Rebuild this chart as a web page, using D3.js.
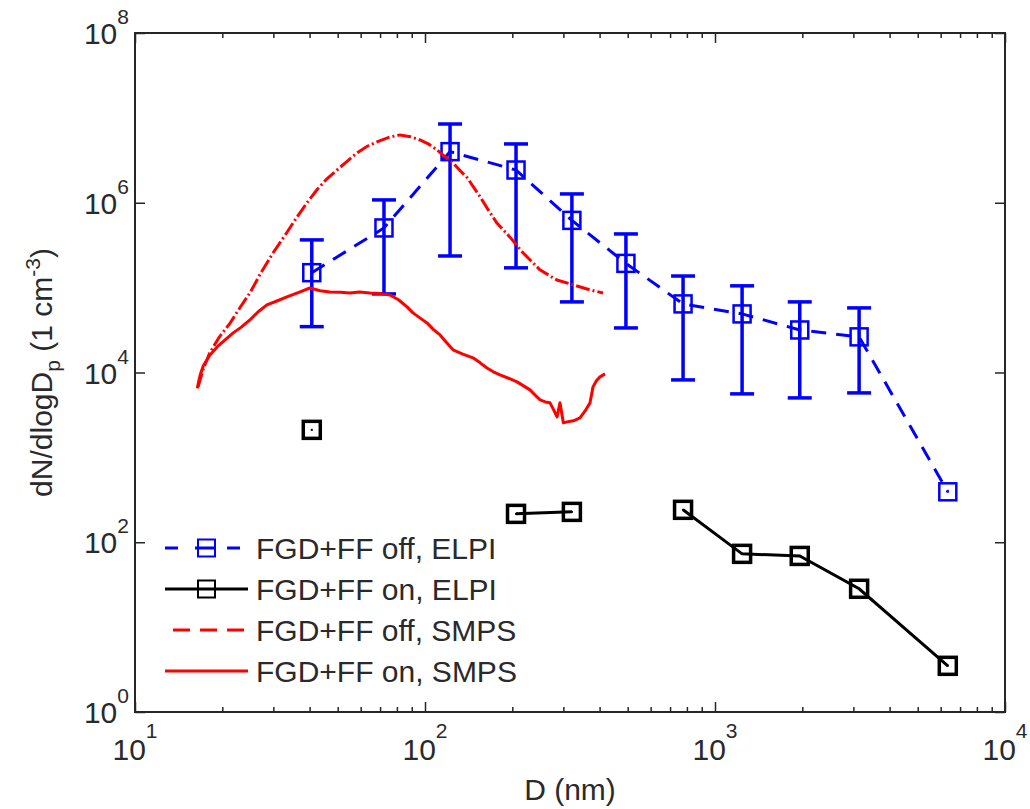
<!DOCTYPE html>
<html>
<head>
<meta charset="utf-8">
<script src="https://cdn.jsdelivr.net/npm/d3@7"></script>
<style>
  body { margin: 0; background: #fff; }
  svg text { font-family: "Liberation Sans", Arial, sans-serif; fill: #2a2a2a; }
</style>
</head>
<body>
<script>
// ELPI stages (nm)
const elpiD = [40.7, 72.2, 122, 206, 321, 493, 776, 1240, 1960, 3140, 6350];
// FGD+FF off, ELPI with error bars
const elpiOff = [1.50e5, 5.05e5, 4.0e6, 2.43e6, 6.2e5, 1.93e5, 6.43e4, 4.9e4, 3.17e4, 2.63e4, 393];
const elpiOffLow = [3.47e4, 8.43e4, 2.36e5, 1.71e5, 6.79e4, 3.35e4, 8.18e3, 5.6e3, 5.02e3, 5.75e3, null];
const elpiOffHigh = [3.65e5, 1.08e6, 8.47e6, 4.93e6, 1.27e6, 4.29e5, 1.37e5, 1.05e5, 6.79e4, 5.77e4, null];
// FGD+FF on, ELPI (gaps = missing stages)
const elpiOn = [2110, null, null, 216, 228, null, 241, 73, 69, 28.3, 3.5];

// FGD+FF off, SMPS
const smpsOffD = [16.5, 17.2, 18.1, 19.5, 21.3, 23.0, 24.9, 27.2, 29.9, 33.0, 36.2, 39.2, 42.4, 45.8, 49.7, 54.0, 58.3, 63.0, 68.3, 75.0, 82.0, 89.0, 96.1, 103, 110, 117, 125, 132, 140, 155, 165, 177, 196, 218, 249, 285, 324, 371, 411];
const smpsOff = [6.8e3, 1.1e4, 1.70e4, 2.6e4, 3.84e4, 5.8e4, 8.66e4, 1.5e5, 2.56e5, 4.2e5, 6.80e5, 1.0e6, 1.42e6, 1.9e6, 2.43e6, 3.1e6, 3.86e6, 4.6e6, 5.20e6, 5.9e6, 6.3e6, 6.0e6, 5.49e6, 4.9e6, 4.19e6, 3.5e6, 2.94e6, 2.4e6, 1.96e6, 1.17e6, 8.3e5, 5.78e5, 3.96e5, 2.56e5, 1.62e5, 1.23e5, 1.08e5, 9.4e4, 8.66e4];

// FGD+FF on, SMPS
const smpsOnD = [16.4, 16.6, 16.8, 17.2, 18.1, 19.2, 20.4, 21.8, 23.2, 24.9, 26.6, 28.5, 31.0, 33.4, 37.1, 40.1, 43.5, 47.0, 51.0, 55.1, 59.5, 64.6, 70.0, 75.7, 81.0, 86.7, 90.9, 96.0, 101.6, 107, 112.7, 118, 124.9, 135, 146.4, 155, 163.6, 172, 181.4, 195, 207.6, 218, 230.2, 240, 249.3, 260, 269.8, 278, 285.3, 292, 300, 308.8, 325, 342.3, 356, 370.7, 379.6, 390, 401.2, 417.6];
const smpsOn = [6.5e3, 8.0e3, 9.5e3, 1.2e4, 1.6e4, 2.0e4, 2.4e4, 2.93e4, 3.4e4, 4.16e4, 5.2e4, 6.26e4, 7.0e4, 7.77e4, 8.9e4, 9.9e4, 9.2e4, 8.9e4, 8.8e4, 8.66e4, 8.9e4, 8.66e4, 8.5e4, 8.2e4, 7.2e4, 5.93e4, 5.04e4, 4.4e4, 3.84e4, 3.2e4, 2.77e4, 2.3e4, 1.85e4, 1.65e4, 1.49e4, 1.3e4, 1.13e4, 1.02e4, 9.37e3, 8.5e3, 7.75e3, 7.0e3, 6.24e3, 5.4e3, 4.76e3, 4.5e3, 4.39e3, 3.6e3, 3.0e3, 4.4e3, 2.55e3, 2.62e3, 2.7e3, 2.92e3, 3.5e3, 4.39e3, 6.77e3, 8.0e3, 8.88e3, 9.63e3];

const legendLabels = ["FGD+FF off, ELPI", "FGD+FF on, ELPI", "FGD+FF off, SMPS", "FGD+FF on, SMPS"];
const xTickExp = [1, 2, 3, 4];
const yTickExp = [0, 2, 4, 6, 8];

const W = 1030, H = 809;
const margin = { top: 33, right: 25, bottom: 97, left: 135 };

const svg = d3.select("body").append("svg")
    .attr("width", W).attr("height", H);

const x = d3.scaleLog().domain([10, 1e4]).range([margin.left, W - margin.right]);
const y = d3.scaleLog().domain([1, 1e8]).range([H - margin.bottom, margin.top]);

const BLUE = "#0000ff", RED = "#ff0000", BLACK = "#000";

// ---- axes (box with inward ticks) ----
const axisCol = "#262626";
const majorX = xTickExp.map(e => Math.pow(10, e));
const minorX = x.ticks().filter(v => !majorX.includes(v));
const majorY = yTickExp.map(e => Math.pow(10, e));

function drawAxis(gen, transform) {
    const g = svg.append("g").attr("transform", transform).call(gen);
    g.select(".domain").remove();
    g.selectAll("line").attr("stroke", axisCol).attr("stroke-width", 1.5);
    g.selectAll("text").remove();
}
const bottomY = H - margin.bottom, topY = margin.top;
drawAxis(d3.axisBottom(x).tickValues(majorX).tickSize(-10), `translate(0,${bottomY})`);
drawAxis(d3.axisBottom(x).tickValues(minorX).tickSize(-5), `translate(0,${bottomY})`);
drawAxis(d3.axisTop(x).tickValues(majorX).tickSize(-10), `translate(0,${topY})`);
drawAxis(d3.axisTop(x).tickValues(minorX).tickSize(-5), `translate(0,${topY})`);
drawAxis(d3.axisLeft(y).tickValues(majorY).tickSize(-10), `translate(${margin.left},0)`);
drawAxis(d3.axisRight(y).tickValues(majorY).tickSize(-10), `translate(${W - margin.right},0)`);

svg.append("rect")
    .attr("x", margin.left).attr("y", margin.top)
    .attr("width", W - margin.left - margin.right)
    .attr("height", H - margin.top - margin.bottom)
    .attr("fill", "none").attr("stroke", axisCol).attr("stroke-width", 2);

// tick labels as 10^n
xTickExp.forEach(function (e) {
    const t = svg.append("text")
        .attr("x", x(Math.pow(10, e)))
        .attr("y", bottomY + 48)
        .attr("text-anchor", "middle")
        .style("font-size", "30px");
    t.append("tspan").text("10");
    t.append("tspan").attr("dy", -22).style("font-size", "21px").text(e);
});
yTickExp.forEach(function (e) {
    const t = svg.append("text")
        .attr("x", 129)
        .attr("y", y(Math.pow(10, e)) + 11)
        .attr("text-anchor", "end")
        .style("font-size", "30px");
    t.append("tspan").text("10");
    t.append("tspan").attr("dy", -20).style("font-size", "21px").text(e);
});

// axis titles
svg.append("text")
    .attr("x", (margin.left + W - margin.right) / 2)
    .attr("y", 800)
    .attr("text-anchor", "middle")
    .style("font-size", "30px")
    .text("D (nm)");

const yl = svg.append("text")
    .attr("transform", `translate(52,${(margin.top + bottomY) / 2}) rotate(-90)`)
    .attr("text-anchor", "middle")
    .style("font-size", "30px");
yl.append("tspan").text("dN/dlogD");
yl.append("tspan").attr("dy", 8).style("font-size", "21px").text("p");
yl.append("tspan").attr("dy", -8).text(" (1 cm");
yl.append("tspan").attr("dy", -12).style("font-size", "21px").text("-3");
yl.append("tspan").attr("dy", 12).text(")");

// ---- data ----
const plot = svg.append("g");

function lineOf(xs) {
    return d3.line()
        .defined(d => d != null)
        .x((d, i) => x(xs[i]))
        .y(d => y(d));
}

// error bars for ELPI off
const capW = 12;
elpiD.forEach(function (d, i) {
    if (elpiOffLow[i] == null) return;
    const cx = x(d), y0 = y(elpiOffLow[i]), y1 = y(elpiOffHigh[i]);
    plot.append("line").attr("x1", cx).attr("x2", cx).attr("y1", y0).attr("y2", y1)
        .attr("stroke", BLUE).attr("stroke-width", 3.5);
    [y0, y1].forEach(function (yy) {
        plot.append("line").attr("x1", cx - capW).attr("x2", cx + capW).attr("y1", yy).attr("y2", yy)
            .attr("stroke", BLUE).attr("stroke-width", 3.5);
    });
});

plot.append("path")
    .attr("d", lineOf(elpiD)(elpiOff))
    .attr("fill", "none").attr("stroke", BLUE).attr("stroke-width", 3)
    .attr("stroke-dasharray", "15,10");

plot.append("path")
    .attr("d", lineOf(elpiD)(elpiOn))
    .attr("fill", "none").attr("stroke", BLACK).attr("stroke-width", 3);

function squares(vals, col, sw) {
    elpiD.forEach(function (d, i) {
        if (vals[i] == null) return;
        const cx = x(d), cy = y(vals[i]);
        plot.append("rect")
            .attr("x", cx - 8.5).attr("y", cy - 8.5).attr("width", 17).attr("height", 17)
            .attr("fill", "none").attr("stroke", col).attr("stroke-width", sw);
        plot.append("rect")
            .attr("x", cx - 1).attr("y", cy - 1).attr("width", 2).attr("height", 2)
            .attr("fill", col);
    });
}
squares(elpiOff, BLUE, 2.5);
squares(elpiOn, BLACK, 3.5);

plot.append("path")
    .attr("d", lineOf(smpsOffD)(smpsOff))
    .attr("fill", "none").attr("stroke", RED).attr("stroke-width", 3)
    .attr("stroke-dasharray", "14,3,2,3");

plot.append("path")
    .attr("d", lineOf(smpsOnD)(smpsOn))
    .attr("fill", "none").attr("stroke", RED).attr("stroke-width", 3)
    .attr("stroke-linejoin", "round");

// ---- legend ----
const legY = [548, 589, 630, 671];
const lx0 = 165, lx1 = 248;
const leg = svg.append("g");
const legStyles = [
    { col: BLUE, dash: "13,17,20,12", sw: 3, marker: true, msw: 2 },
    { col: BLACK, dash: null, sw: 3, marker: true, msw: 2 },
    { col: RED, dash: "17,10", sw: 3, marker: false },
    { col: RED, dash: null, sw: 3, marker: false }
];
legendLabels.forEach(function (lab, i) {
    const s = legStyles[i], yy = legY[i];
    const ln = leg.append("line")
        .attr("x1", i == 2 ? 173 : lx0).attr("x2", lx1).attr("y1", yy).attr("y2", yy)
        .attr("stroke", s.col).attr("stroke-width", s.sw);
    if (s.dash) ln.attr("stroke-dasharray", s.dash);
    if (s.marker) {
        leg.append("rect")
            .attr("x", 198).attr("y", yy - 8.5).attr("width", 17).attr("height", 17)
            .attr("fill", "none").attr("stroke", s.col).attr("stroke-width", s.msw);
    }
    leg.append("text")
        .attr("x", 256).attr("y", yy + 11)
        .style("font-size", "30px")
        .text(lab);
});
</script>
</body>
</html>
